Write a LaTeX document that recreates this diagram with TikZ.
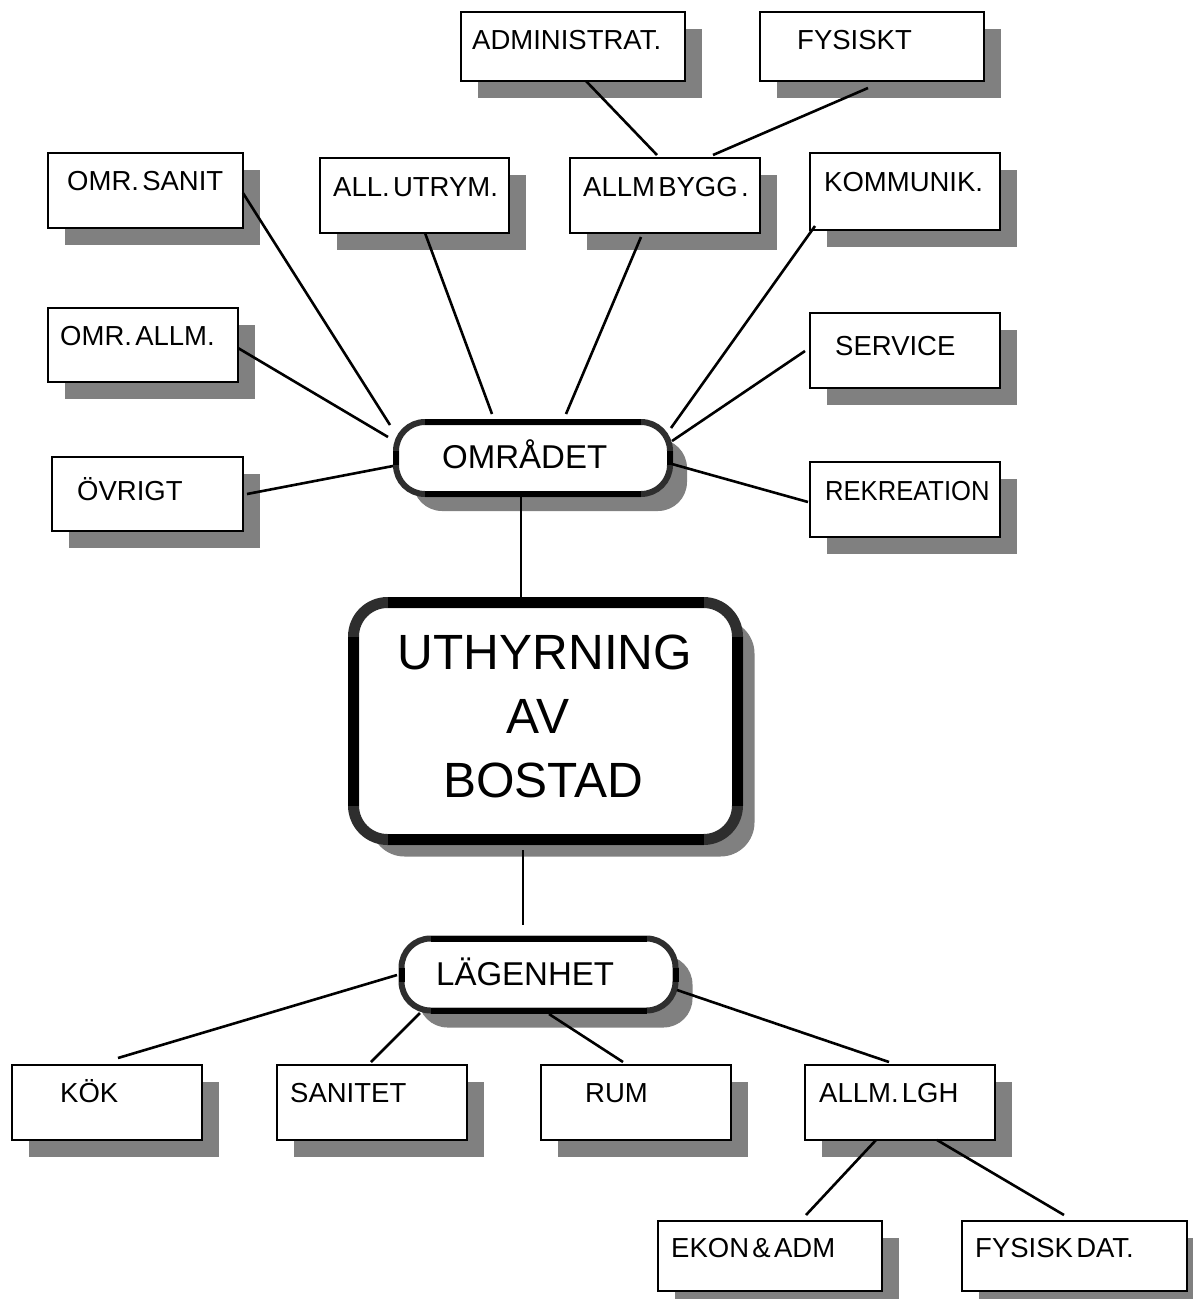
\documentclass[tikz,border=0pt]{standalone}
\usepackage{fontspec}
\setmainfont{Liberation Sans}
\usetikzlibrary{shadows,calc}
\definecolor{shade}{HTML}{808080}
\definecolor{arcgray}{HTML}{2E2E2E}
\newcommand\tightspaces{\spaceskip=0.12em\relax}
\tikzset{
  box/.style={draw=black, line width=2.8pt, fill=white, inner sep=0pt, outer sep=0pt,
    drop shadow={shadow xshift=17pt, shadow yshift=-17pt, fill=shade, opacity=1}},
  thinbox/.style={box, line width=1.5pt},
  pill/.style={box, draw=arcgray, line width=6pt, rounded corners=29pt},
  bigpill/.style={box, draw=arcgray, line width=11pt, rounded corners=34pt},
  lbl/.style={anchor=base west, inner sep=0pt, font=\fontsize{27.5}{32}\selectfont\tightspaces},
  midlbl/.style={anchor=base west, inner sep=0pt, font=\fontsize{33}{38}\selectfont},
  biglbl/.style={anchor=base, inner sep=0pt, font=\fontsize{49.5}{56}\selectfont},
  link/.style={line width=2.6pt},
}
% \rbox{name}{style}{x1}{y1}{x2}{y2}: a box given by its corners (pixel units)
\newcommand\rbox[6]{%
  \node[#2, minimum width={#5-#3}, minimum height={#6-#4}] (#1) at ({(#3+#5)/2},{(#4+#6)/2}) {};}
\begin{document}
\begin{tikzpicture}[x=1pt,y=-1pt]
\useasboundingbox[fill=white] (0,0) rectangle (1192,1299);

% top level detail boxes
\rbox{admin}{thinbox}{461}{12}{685}{81}
\rbox{fysiskt}{thinbox}{760}{12}{984}{81}
\rbox{sanit}{box}{48}{153}{243}{228}
\rbox{utrym}{box}{320}{158}{509}{233}
\rbox{bygg}{box}{570}{158}{760}{233}
\rbox{komm}{box}{810}{153}{1000}{230}
\rbox{oallm}{box}{48}{308}{238}{382}
\rbox{service}{box}{810}{313}{1000}{388}
\rbox{ovrigt}{box}{52}{457}{243}{531}
\rbox{rekr}{box}{810}{462}{1000}{537}

% central rounded boxes
\rbox{omr}{pill}{396}{422}{670}{494}
\rbox{uthyr}{bigpill}{353.5}{602.5}{737.5}{839.5}
\rbox{lgh}{pill}{401.5}{938.5}{675.5}{1010.5}

% straight edges of the rounded boxes in solid black
\foreach \n/\r/\w in {omr/29/6, lgh/29/6, uthyr/34/11}{
  \draw[line width=\w pt] ($(\n.north west)+(\r,0)$) -- ($(\n.north east)+(-\r,0)$);
  \draw[line width=\w pt] ($(\n.south west)+(\r,0)$) -- ($(\n.south east)+(-\r,0)$);
  \draw[line width=\w pt] ($(\n.north west)+(0,\r)$) -- ($(\n.south west)+(0,-\r)$);
  \draw[line width=\w pt] ($(\n.north east)+(0,\r)$) -- ($(\n.south east)+(0,-\r)$);
}

% lower level boxes
\rbox{kok}{box}{12}{1065}{202}{1140}
\rbox{sanitet}{box}{277}{1065}{467}{1140}
\rbox{rum}{box}{541}{1065}{731}{1140}
\rbox{allmlgh}{box}{805}{1065}{995}{1140}
\rbox{ekon}{thinbox}{658}{1221}{882}{1291}
\rbox{fysdat}{thinbox}{962}{1221}{1187}{1291}

% labels
\node[lbl] (t-admin) at (472,49) {ADMINISTRAT.};
\node[lbl] (t-fysiskt) at (797,49) {FYSISKT};
\node[lbl] (t-sanit) at (67,190) {OMR. SANIT};
\node[lbl] (t-utrym) at (333,196) {ALL. UTRYM.};
\node[lbl] (t-bygg) at (583,196) {ALLM BYGG .};
\node[lbl] (t-komm) at (824,191) {KOMMUNIK.};
\node[lbl] (t-oallm) at (60,345) {OMR. ALLM.};
\node[lbl] (t-service) at (835,355) {SERVICE};
\node[lbl] (t-ovrigt) at (77,500) {ÖVRIGT};
\node[lbl] (t-rekr) at (825,500) {\scalebox{0.93}[1]{REKREATION}};
\node[midlbl] (t-omr) at (442,468) {OMRÅDET};
\node[biglbl] (t-u1) at (545,669) {UTHYRNING};
\node[biglbl] (t-u2) at (538,733) {AV};
\node[biglbl] (t-u3) at (543,797) {BOSTAD};
\node[midlbl] (t-lgh) at (436,985) {LÄGENHET};
\node[lbl] (t-kok) at (60,1102) {KÖK};
\node[lbl] (t-sanitet) at (290,1102) {SANITET};
\node[lbl] (t-rum) at (585,1102) {RUM};
\node[lbl] (t-allmlgh) at (819,1102) {ALLM. LGH};
\node[lbl] (t-ekon) at (671,1257) {EKON \& ADM};
\node[lbl] (t-fysdat) at (975,1257) {FYSISK DAT.};

% connectors
\draw[link] ($(admin.south west)+(125,0)$) -- ($(bygg.north west)+(87,-3)$);
\draw[link] ($(fysiskt.south west)+(108,7)$) -- ($(bygg.north west)+(143,-3)$);
\draw[link] ($(sanit.north east)+(0,40)$) -- ($(omr.north west)+(-6,3)$);
\draw[link] ($(utrym.south west)+(105,0)$) -- ($(omr.north west)+(96,-8)$);
\draw[link] ($(bygg.south west)+(71,4)$) -- ($(omr.north west)+(170,-8)$);
\draw[link] ($(komm.south west)+(5,-4)$) -- ($(omr.north east)+(1,6)$);
\draw[link] ($(oallm.north east)+(0,40)$) -- ($(omr.north west)+(-8,15)$);
\draw[link] ($(service.north west)+(-5,38)$) -- ($(omr.north east)+(2,19)$);
\draw[link] ($(ovrigt.north east)+(4,37)$) -- ($(omr.north west)+(-3,44)$);
\draw[link] ($(omr.north east)+(2,42)$) -- ($(rekr.north west)+(-2,40)$);
\draw[link] ($(omr.south west)+(125,3)$) -- ($(uthyr.north west)+(167.5,-4.5)$);
\draw[link] ($(uthyr.south west)+(169.5,10.5)$) -- ($(lgh.north west)+(121.5,-13.5)$);
\draw[link] ($(lgh.north west)+(-4.5,36.5)$) -- ($(kok.north west)+(106,-7)$);
\draw[link] ($(lgh.south west)+(18.5,2.5)$) -- ($(sanitet.north west)+(94,-3)$);
\draw[link] ($(lgh.south west)+(147.5,3.5)$) -- ($(rum.north west)+(82,-3)$);
\draw[link] ($(lgh.north east)+(1.5,51.5)$) -- ($(allmlgh.north west)+(84,-3)$);
\draw[link] ($(allmlgh.south west)+(71,0)$) -- ($(ekon.north west)+(148,-6)$);
\draw[link] ($(allmlgh.south west)+(132,0)$) -- ($(fysdat.north west)+(102,-6)$);
\end{tikzpicture}
\end{document}
